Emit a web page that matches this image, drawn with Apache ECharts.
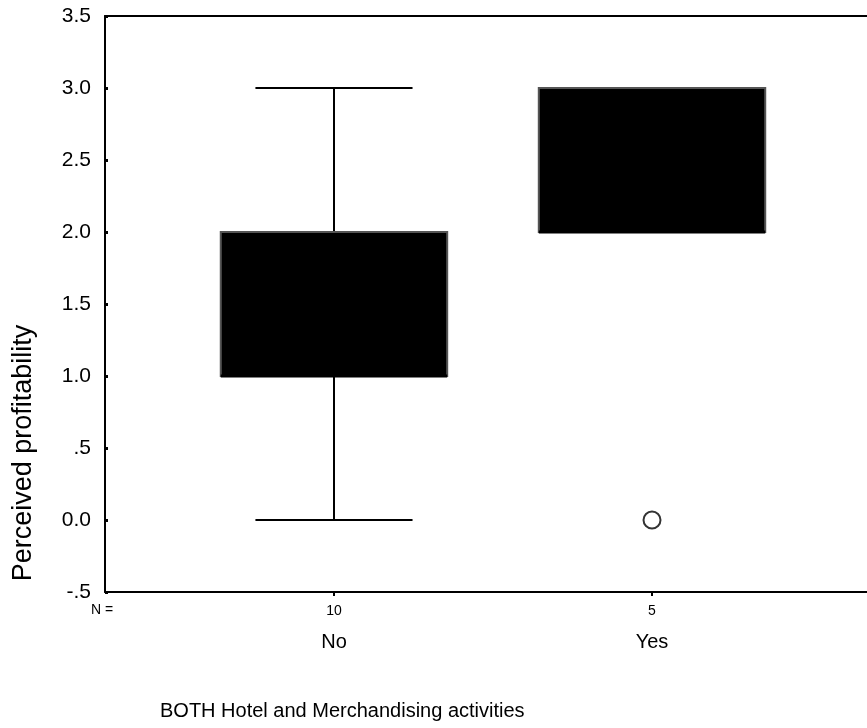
<!DOCTYPE html>
<html>
<head>
<meta charset="utf-8">
<script src="https://cdn.jsdelivr.net/npm/echarts@6/dist/echarts.min.js"></script>
<style>
html,body{margin:0;padding:0;background:#fff;}
#chart{width:867px;height:728px;}
</style>
</head>
<body>
<div id="chart"></div>
<script>
var categories = ['No', 'Yes'];
var counts = [10, 5];
var positions = [1, 2];
var lowWhisker = [0, 2];
var q1 = [1, 2];
var median = [1, 2];
var q3 = [2, 3];
var highWhisker = [3, 3];
var outliers = [[2, 0]];
var yTickLabels = ['-.5', '0.0', '.5', '1.0', '1.5', '2.0', '2.5', '3.0', '3.5'];

var FONT = '"Liberation Sans", Arial, sans-serif';
var xMin = 0.28, xMax = 2.676;

var boxData = positions.map(function (p, i) {
  return [p, lowWhisker[i], q1[i], median[i], q3[i], highWhisker[i]];
});

var chart = echarts.init(document.getElementById('chart'));
chart.setOption({
  animation: false,
  backgroundColor: '#fff',
  grid: { left: 105, right: 0, top: 16, bottom: 136, containLabel: false },
  xAxis: [{
    type: 'value', min: xMin, max: xMax,
    axisLine: { show: true, onZero: false, lineStyle: { color: '#000', width: 2 } },
    axisTick: { show: true, customValues: positions, length: 4, lineStyle: { color: '#000', width: 2 } },
    splitLine: { show: false },
    axisLabel: {
      customValues: positions,
      margin: 11,
      fontFamily: FONT,
      formatter: function (v) {
        var i = positions.indexOf(v);
        return '{n|' + counts[i] + '}\n{c|' + categories[i] + '}';
      },
      rich: {
        n: { fontSize: 14, fontFamily: FONT, color: '#000', lineHeight: 16 },
        c: { fontSize: 20, fontFamily: FONT, color: '#000', lineHeight: 46 }
      }
    }
  }, {
    type: 'value', min: xMin, max: xMax, position: 'top',
    axisLine: { show: true, onZero: false, lineStyle: { color: '#000', width: 2 } },
    axisTick: { show: false }, axisLabel: { show: false }, splitLine: { show: false }
  }],
  yAxis: {
    type: 'value', min: -0.5, max: 3.5, interval: 0.5,
    axisLine: { show: true, onZero: false, lineStyle: { color: '#000', width: 2 } },
    axisTick: { show: true, inside: true, length: 3, lineStyle: { color: '#000', width: 3 } },
    splitLine: { show: false },
    axisLabel: {
      margin: 14, fontSize: 21, fontFamily: FONT, color: '#000',
      formatter: function (v) {
        var idx = Math.round((v + 0.5) / 0.5);
        return yTickLabels[idx];
      }
    }
  },
  graphic: [
    { type: 'text', left: 91, top: 603, style: { text: 'N =', font: '14px ' + FONT, fill: '#000' } },
    { type: 'text', x: 24, y: 453, rotation: Math.PI / 2,
      style: { text: 'Perceived profitability', font: '27px ' + FONT, fill: '#000', align: 'center', verticalAlign: 'middle' } },
    { type: 'text', left: 160, top: 701, style: { text: 'BOTH Hotel and Merchandising activities', font: '20px ' + FONT, fill: '#000' } }
  ],
  series: [{
    type: 'custom',
    data: boxData,
    encode: { x: 0, y: [1, 2, 3, 4, 5] },
    renderItem: function (params, api) {
      var x = api.value(0);
      var half = api.size([0.356, 0])[0];
      var cap = api.size([0.247, 0])[0];
      var pLow = api.coord([x, api.value(1)]);
      var pQ1 = api.coord([x, api.value(2)]);
      var pMed = api.coord([x, api.value(3)]);
      var pQ3 = api.coord([x, api.value(4)]);
      var pHigh = api.coord([x, api.value(5)]);
      var cx = pQ1[0];
      var ls = { stroke: '#000', lineWidth: 2 };
      var children = [];
      if (pHigh[1] < pQ3[1] - 0.5) {
        children.push({ type: 'line', shape: { x1: cx, y1: pHigh[1], x2: cx, y2: pQ3[1] }, style: ls });
        children.push({ type: 'line', shape: { x1: cx - cap, y1: pHigh[1], x2: cx + cap, y2: pHigh[1] }, style: ls });
      }
      if (pLow[1] > pQ1[1] + 0.5) {
        children.push({ type: 'line', shape: { x1: cx, y1: pQ1[1], x2: cx, y2: pLow[1] }, style: ls });
        children.push({ type: 'line', shape: { x1: cx - cap, y1: pLow[1], x2: cx + cap, y2: pLow[1] }, style: ls });
      }
      children.push({ type: 'rect', shape: { x: cx - half, y: pQ3[1], width: 2 * half, height: pQ1[1] - pQ3[1] },
        style: { fill: '#000', stroke: '#555', lineWidth: 2 } });
      children.push({ type: 'line', shape: { x1: cx - half, y1: pMed[1], x2: cx + half, y2: pMed[1] },
        style: { stroke: '#000', lineWidth: 3 } });
      return { type: 'group', children: children };
    },
    z: 2
  }, {
    type: 'scatter',
    data: outliers,
    symbol: 'circle',
    symbolSize: 17,
    itemStyle: { color: '#fff', borderColor: '#000', borderWidth: 2 },
    z: 3
  }]
});
</script>
</body>
</html>
